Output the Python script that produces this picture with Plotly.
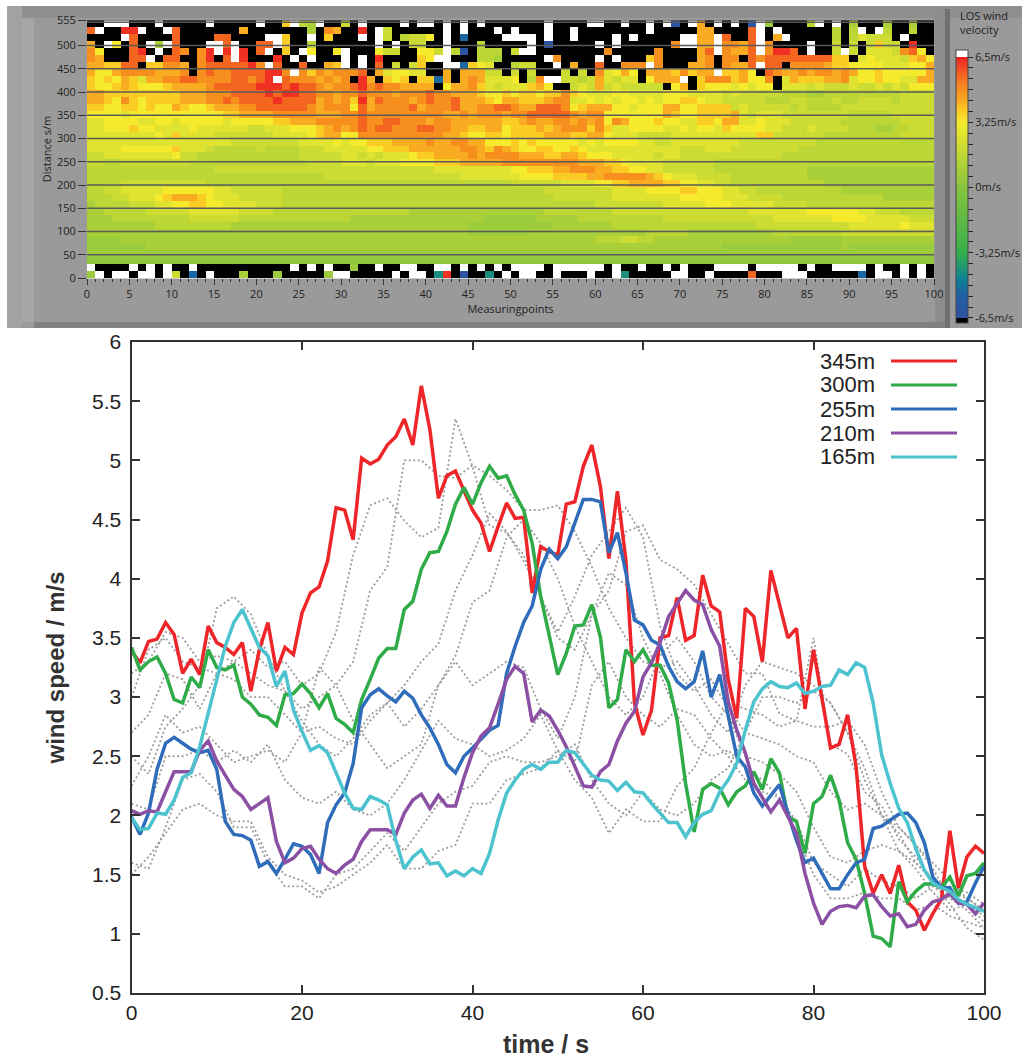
import plotly.graph_objects as go

W, H = 1022, 1057

# ---------- data: line chart ----------
red345 = [3.39,3.29,3.47,3.49,3.63,3.53,3.2,3.32,3.19,3.6,3.46,3.42,3.36,3.46,3.05,3.4,3.63,3.22,3.42,3.36,
          3.71,3.88,3.93,4.15,4.6,4.58,4.33,5.02,4.97,5.01,5.13,5.2,5.35,5.13,5.63,5.26,4.68,4.87,4.91,4.74,
          4.58,4.47,4.23,4.44,4.64,4.51,4.52,3.88,4.27,4.23,4.2,4.63,4.65,4.95,5.13,4.78,4.17,4.74,4.15,2.95,
          2.68,2.89,3.5,3.52,3.84,3.48,3.52,4.03,3.77,3.72,3.15,2.82,3.75,3.68,3.3,4.07,3.79,3.5,3.58,2.9,
          3.4,2.98,2.57,2.6,2.85,2.41,1.57,1.34,1.5,1.34,1.58,1.27,1.2,1.03,1.17,1.29,1.87,1.39,1.65,1.74,1.68]
green300 = [3.42,3.23,3.3,3.34,3.2,2.98,2.95,3.17,3.08,3.4,3.25,3.23,3.27,3.0,2.94,2.85,2.83,2.76,3.02,3.03,
            3.11,3.03,2.91,3.03,2.82,2.77,2.7,2.98,3.15,3.33,3.41,3.41,3.74,3.81,4.08,4.22,4.23,4.4,4.63,4.77,
            4.63,4.81,4.95,4.85,4.87,4.71,4.58,4.3,3.85,3.51,3.19,3.37,3.6,3.61,3.78,3.51,2.91,2.98,3.4,3.3,
            3.4,3.27,3.27,3.12,2.81,2.27,1.86,2.22,2.27,2.23,2.09,2.2,2.25,2.37,2.22,2.48,2.36,1.99,1.95,1.68,
            2.1,2.16,2.34,2.13,1.77,1.63,1.34,0.98,0.96,0.89,1.44,1.27,1.36,1.42,1.42,1.39,1.48,1.32,1.49,1.51,1.6]
blue255 = [1.99,1.84,2.02,2.39,2.61,2.66,2.61,2.56,2.53,2.55,2.39,1.95,1.84,1.83,1.79,1.57,1.61,1.51,1.63,1.76,
           1.74,1.67,1.51,1.94,2.09,2.19,2.44,2.91,3.02,3.07,3.01,2.96,3.05,2.99,2.85,2.74,2.6,2.43,2.36,2.5,
           2.57,2.65,2.72,2.76,3.2,3.43,3.63,3.77,4.08,4.25,4.17,4.27,4.48,4.67,4.67,4.65,4.22,4.39,4.05,3.65,
           3.61,3.48,3.44,3.26,3.13,3.07,3.13,3.39,3.0,3.19,2.84,2.5,2.41,2.19,2.08,2.17,2.26,2.02,1.79,1.6,
           1.64,1.51,1.38,1.38,1.5,1.6,1.63,1.89,1.91,1.96,2.01,2.02,1.94,1.77,1.48,1.39,1.39,1.26,1.27,1.43,1.57]
purple210 = [2.04,2.01,2.04,2.03,2.2,2.37,2.37,2.37,2.55,2.63,2.46,2.34,2.22,2.16,2.05,2.1,2.15,1.78,1.6,1.64,
             1.72,1.74,1.63,1.55,1.51,1.58,1.63,1.78,1.88,1.88,1.88,1.84,2.02,2.13,2.18,2.06,2.17,2.08,2.08,2.32,
             2.53,2.67,2.74,2.94,3.15,3.26,3.2,2.79,2.89,2.84,2.72,2.58,2.41,2.25,2.24,2.37,2.43,2.63,2.78,2.88,
             3.17,3.29,3.46,3.68,3.79,3.9,3.82,3.78,3.57,3.43,2.96,2.72,2.53,2.27,2.15,2.03,2.13,1.99,1.85,1.51,
             1.26,1.08,1.19,1.23,1.24,1.22,1.32,1.33,1.23,1.15,1.17,1.06,1.08,1.2,1.27,1.29,1.34,1.26,1.25,1.17,1.26]
cyan165 = [1.98,1.88,1.89,2.02,2.01,2.13,2.32,2.36,2.58,2.86,3.15,3.43,3.63,3.74,3.58,3.42,3.35,3.09,3.22,2.89,
           2.71,2.55,2.59,2.53,2.36,2.19,2.06,2.05,2.16,2.13,2.09,1.79,1.55,1.65,1.71,1.59,1.6,1.49,1.53,1.49,
           1.55,1.51,1.68,1.96,2.19,2.3,2.39,2.43,2.39,2.45,2.45,2.55,2.53,2.43,2.34,2.3,2.29,2.21,2.28,2.2,
           2.19,2.1,2.02,1.94,1.94,1.82,1.94,2.01,2.04,2.2,2.3,2.44,2.72,2.96,3.07,3.13,3.09,3.08,3.12,3.03,
           3.05,3.09,3.1,3.23,3.19,3.29,3.25,2.95,2.51,2.27,2.06,1.94,1.72,1.54,1.43,1.39,1.36,1.29,1.25,1.22,1.19]
series_names = ["345m", "300m", "255m", "210m", "165m"]
series_values = [red345, green300, blue255, purple210, cyan165]
series_colors = ["#ee2529", "#2fab48", "#2f6dbb", "#8b4fa3", "#4dc3cf"]

grey330 = [3.2,3.3,3.55,3.5,3.3,3.35,3.3,3.4,3.25,3.3,3.1,3.2,3.55,4.2,4.62,4.68,4.49,4.35,4.43,5.35,4.95,4.45,4.39,4.2,3.85,3.5,3.4,3.7,3.9,4.4,4.45,4.16,4.08,3.95,3.7,3.45,3.2,3.2,2.86,2.8,3.5,2.6,2.52,2.2,2.08,1.8,1.65,1.45,1.25,1.05,0.95]
grey315 = [3.0,3.4,3.5,3.3,3.25,3.2,3.3,3.2,3.1,3.05,2.9,3.0,3.1,3.3,3.9,4.1,5.0,5.0,4.87,4.85,4.96,4.87,4.75,4.58,4.58,4.62,4.4,4.1,3.75,3.5,3.3,3.25,3.3,3.1,2.85,2.7,3.1,3.3,3.25,3.2,3.1,2.95,2.7,2.4,2.0,1.7,1.55,1.35,1.2,1.25,1.1]
grey285 = [2.7,2.85,3.2,3.15,2.9,3.2,3.15,3.0,3.0,2.85,2.7,2.75,2.65,2.6,2.8,2.95,3.1,3.3,3.45,3.9,4.2,4.55,4.4,4.15,3.85,3.55,3.85,4.2,4.4,4.6,4.35,3.6,3.2,3.05,3.15,2.9,2.7,2.65,2.6,2.5,2.45,2.2,2.05,2.1,2.0,1.9,1.75,1.6,1.45,1.3,1.2]
grey270 = [2.5,2.35,2.75,2.9,3.1,3.75,3.85,3.7,3.35,3.05,2.8,2.6,2.5,2.65,2.85,2.95,2.75,2.9,3.1,3.35,3.8,3.9,4.35,4.5,4.3,4.0,3.6,3.3,3.0,2.85,3.0,3.35,3.5,3.3,3.0,2.85,2.5,2.45,2.35,2.2,1.9,1.65,1.6,1.7,1.75,1.7,1.6,1.45,1.4,1.35,1.25]
grey240 = [2.25,2.5,2.85,2.7,2.75,2.6,2.45,2.5,2.55,2.45,2.7,3.25,3.1,2.8,2.6,2.4,2.5,2.6,3.1,3.3,3.1,3.2,3.3,3.25,2.9,2.65,3.0,3.7,4.05,3.95,3.5,3.2,2.85,2.6,2.5,2.55,2.4,2.3,2.15,1.95,1.6,1.5,1.4,1.55,1.45,1.4,1.3,1.4,1.3,1.2,1.05]
grey225 = [2.1,2.05,2.5,2.5,2.55,2.45,2.55,2.45,2.6,2.3,2.15,2.1,2.2,2.05,2.0,2.1,2.3,2.55,2.8,2.65,2.6,2.5,2.55,2.65,2.85,2.55,2.45,3.1,3.3,3.0,2.85,2.75,2.9,2.85,2.65,2.5,2.3,2.2,2.15,1.85,1.5,1.3,1.3,1.35,1.3,1.3,1.2,1.25,1.15,1.1,1.05]
grey195 = [1.6,1.55,1.9,2.3,2.35,2.2,1.9,1.9,1.6,1.4,1.4,1.3,1.5,1.55,1.7,1.85,1.7,1.9,2.1,2.2,2.25,2.45,2.5,2.45,2.45,2.5,2.6,2.3,2.1,2.0,2.2,2.05,2.0,2.1,2.3,2.4,2.7,3.0,3.0,2.95,3.05,2.95,2.7,2.3,2.0,1.85,1.6,1.45,1.35,1.3,1.2]
grey180 = [1.5,1.65,1.85,2.05,2.1,2.0,1.95,1.95,1.65,1.5,1.45,1.35,1.4,1.5,1.6,1.75,1.55,1.55,1.7,1.75,2.1,2.1,2.3,2.35,2.4,2.55,2.3,2.15,1.85,2.05,1.95,1.95,2.25,2.4,2.7,2.95,2.9,2.85,2.75,2.8,2.75,2.75,2.8,2.6,2.2,1.9,1.75,1.55,1.3,1.25,1.15]
grey_values = [grey330, grey315, grey285, grey270, grey240, grey225, grey195, grey180]

y_tick_vals = [0.5,1,1.5,2,2.5,3,3.5,4,4.5,5,5.5,6]
y_tick_text = ["0.5","1","1.5","2","2.5","3","3.5","4","4.5","5","5.5","6"]
x_tick_vals = [0,20,40,60,80,100]

# ---------- data: heat map, one character per cell, top row first ----------
level_values = {"a":0.3,"0":0.6,"1":1.0,"2":1.5,"3":2.0,"4":2.6,"5":3.25,"6":3.8,"7":4.3,"8":4.9,"9":5.6,"R":6.3,
                "K":-6.75,"W":6.85,"B":-6.2,"T":-5.2,"G":-4.2}
heat_rows = [
 "KKWWWKKKWKKKKKWKKKKKWKK6W21WKK"+"3KWKKKKWKWWKWKWKWKKKKKKKWKKKKWWKKWKKWKWB"+"KW7KWKWKBW0KKKK2WKWK1KKK1KK1KK",
 "9WKKRRWKKW9KKKKKKK7KKKKKKK1K87"+"KKRKW3KKKKKKWKWKKKWKWKKKWKKWKKKKKKKKWKKK"+"KK77KKKK9WKWKKKKKK2K2WKW2KK2KK",
 "KKKKW9KKKK9KKKK99KKKKWW6KKWK6K"+"KKWKW3K2335KWKTKKKKWWWWKWKKWKKKKWKWKKKKK"+"WW77W9KK9WK7WKKKKK2K24333KWKKK",
 "7KW5K9KW1W9KKKWW9WKK99W6KK2KKK"+"KKKKWKWK33KKWKKK2KKKKKWKBKKKKKWKWKKKKKK8"+"WW77W8879W8KKKKWKK3K3K3633KRKK",
 "85KKK9RKWK98K8RWRWRK9WK6KW5KK5"+"WKKK533KK553W2BK222K3WWKKKKKKKK8KKKKK8KK"+"KK79W8779W8RR9KWKK3W3K4443895K",
 "87KKK99WK99KK8RK9WRKKKRKWKWKKK"+"WKWKRKKKK65WWKKK221KKKKKW8KKKKWKWKKK68KK"+"KK78K88K989999999966K454443675"[:30],
 "776699K66887K899999R8W9KK9KK76"+"WKWK9K3K36KKWWT654KK233KKWK7KK9KK888W8KK"+"K778K8779W99K888876655554445576"[:30],
 "7557888877"+"78K8988999"+"9RR8W86878"+"889K745544KK7K77733K3K3KKK3K3K84575K7776"+"8677W6675K98778788787556555557"[:30],
 "656576477889988889989RW9888787"+"8KR7K656K66T7K7874445K28WW332374344K5777"+"WK6888675 58K4766677845565544 7".replace(" ","")[:30],
 "6556765556"+"7777899999"+"RRR9R99878"+"89R89887777K5778643444675KK34373433333K5"[:40]+"7K655545455K44434333433434355"[:30],
 "7766666666"+"6777888999"+"9R9RR99887"+"8898887888988777655656656686544455444455"[:40]+"5444434333332221122222222233"[:30].ljust(30,"3"),
 "7765865666"+"6777889899"+"99R9999787"+"86R798887898897776577666788445454554545"[:40].ljust(40,"5")+"6654433333222332223223333233"[:30].ljust(30,"3"),
 "6655665655"+"7655677788"+"9999998788"+"859788889788897788998779998567775545557 7".replace(" ","")[:40]+"556666343333323222233333333 3".replace(" ","")[:30].ljust(30,"3"),
 "555545555555555566777788888777"+"8898888888887787888788999998788555555576"[:40]+"55666674344433333333222223333 3".replace(" ","")[:30],
 "44555544554555554555556677788 8".replace(" ","")[:30]+"8898899888788777777667877887878587555655"[:40]+"4466577445444333333222222233 33".replace(" ","")[:30],
 "445556554444544444433444555678"+"7898998889988776677566676788868644555544"+"5455465555443334333322211 2233".replace(" ","")[:30],
 "444444445464444333333344445677"+"5588888888887765566566667776677544433334"+"4444444446633333322222222 2333".replace(" ","")[:30],
 "444444444444444443333333344445"+"4556667777877887755565655555454555544334"[:40]+"4444444333333333222222 2222222".replace(" ","")[:30],
 "444455555564443222223222233344"+"4445566677777788768765566556544444444444"+"33344433333333222222 2222222222".replace(" ","")[:30],
 "334444444453322222222222233333"+"4434344456677778788887776677655544444344"+"33333333333322222222 222222222".replace(" ","")[:30],
 "3322333333332222222222222233 33".replace(" ","")[:30]+"4443444555566677777888888888777665444433"+"33332222222 22222222222222222".replace(" ","")[:30],
 "222222222222222333333333333333"+"3333333333344444444455666778887766554433"+"33332222222222211111 1111111111".replace(" ","")[:30],
 "222222222222222222222222222233"+"3333333333333344444445555666677888887654"+"4433332222222221111 1111111111".replace(" ","")[:30],
 "222233333333332222222222222222"+"2222222222222222222233333344445566777766"+"5544332222222222211 1111111111".replace(" ","")[:30],
 "223344444555555443333332222222"+"2222222222222222222222223333333344445555"+"6655544332222222222 1111111111".replace(" ","")[:30],
 "222334445677765444333332222222"+"2222222222222222222222222333333344444444"+"5555544433332222222 2222211111".replace(" ","")[:30],
 "122223334455665544443332222222"+"2222222222222222222222222222223333333344"+"4445554444433332222 2222222222".replace(" ","")[:30],
 "112222233333444444333322222222"+"2222222211111111111111112222222233333333"+"333333334 4444445555 5544333222".replace(" ","")[:30],
 "111222222222333333222222222222"+"2111111111111111100000011111222222222233"+"333333333 3344444445 5554444433".replace(" ","")[:30],
 "111111112222222221111111111111"+"1111111111111110000000000111111122222222"+"222222222 3333333333 3444444544".replace(" ","")[:30],
 "111111111111111111111111111111"+"1111111111111110000000111111111111112222"+"211111111 1122222222 3333333333".replace(" ","")[:30],
 "000011111111111111111111111111"+"1111111111111111111111111111112223322111"+"111111111 1111000000 1111111111".replace(" ","")[:30],
 "000000011111111111111111111111"+"1111111111111111111111111111111111111111"+"111110000 0000000000 1000000000".replace(" ","")[:30],
 "000000000000000000000000000000"+"0000000000000000000000000000000000000000"+"000000000 0000000000 0000000000".replace(" ","")[:30],
 "aaaaaaaaaaaaaaaaaaaaaaaaaaaaaa"+"aaaaaaaaaaaaaaaaaaaaaaaaaaaaaaaaaaaaaaaa"+"aaaaaaaaaaaaaaaaaaaaaaaaaaaaaa",
 "WKKKKWKWKWKKWKKKKKKKKKKKWKWKWK"+"K0KKWKKWWKKWWKWKWKWKWWWWKWWWWWWKWKKWKKWK"+"WKKKWWWWKWWWWWKWKKWWWWKWKKWKWK",
 "0WKWWKWWKW3KTKWKKK1KKK0KKKKK0W"+"WKKKKKWKWWKGRKBKKGKWKWWKKWKKKWKKWGKKKKKW"+"WKKWKKKK9KKKWWWKKKKKKTKWWKWKWK",
]
heat_rows = [(r + r[-1] * 100)[:100] for r in heat_rows]
row_centres = [555 - 15 * k - 7.5 for k in range(len(heat_rows))]
column_centres = [i + 0.5 for i in range(100)]
heat_z = [[level_values[c] for c in row] for row in heat_rows]

heat_x_ticks = list(range(0, 101, 5))
heat_y_ticks = [0, 50, 100, 150, 200, 250, 300, 350, 400, 450, 500, 555]
heat_grid = [50, 100, 150, 200, 250, 300, 350, 400, 450, 500, 550]
bar_vals = [-6.5 + 13 * i / 24 for i in range(25)]
bar_labels = {0: "-6,5m/s", 6: "-3,25m/s", 12: "0m/s", 18: "3,25m/s", 24: "6,5m/s"}

# ---------- colour scale ----------
zmin, zmax = -6.75, 6.85
def pos(v):
    return (v - zmin) / (zmax - zmin)
stops = [(-6.5, "#2f4f9f"), (-5.4, "#1f5fa5"), (-4.6, "#0d7f96"), (-3.25, "#35b04a"), (0, "#87c33f"),
         (1.5, "#bcd636"), (3.25, "#f5ea2c"), (3.9, "#fbc623"), (4.4, "#f9a521"), (5.0, "#f78a1f"),
         (5.7, "#f35f20"), (6.5, "#ed2024")]
colorscale = [[0, "#000000"], [pos(-6.5), "#000000"]]
colorscale += [[pos(v), c] for v, c in stops]
colorscale += [[pos(6.5), "#ffffff"], [1, "#ffffff"]]

fig = go.Figure()
fig.add_trace(go.Heatmap(
    z=heat_z, x=column_centres, y=row_centres, xaxis="x", yaxis="y",
    colorscale=colorscale, zmin=zmin, zmax=zmax, hoverinfo="skip",
    colorbar=dict(x=956 / W, xanchor="left", xpad=0, y=1 - 50 / H, yanchor="top", ypad=0,
                  lenmode="pixels", len=273, thicknessmode="pixels", thickness=12,
                  tickmode="array", tickvals=bar_vals,
                  ticktext=[bar_labels.get(i, "") for i in range(25)],
                  ticks="outside", ticklen=5, tickcolor="#222", tickfont=dict(family="Open Sans", size=11, color="#222"),
                  outlinecolor="#444", outlinewidth=1, borderwidth=0),
))

grey_t = list(range(0, 101, 2))
for g in grey_values:
    fig.add_trace(go.Scatter(x=grey_t, y=g, xaxis="x2", yaxis="y2", mode="lines", showlegend=False,
                             line=dict(color="#9c9c9c", width=1.8, dash="2px,2.5px"), hoverinfo="skip"))
t = list(range(101))
for name, vals, col in zip(series_names, series_values, series_colors):
    fig.add_trace(go.Scatter(x=t, y=vals, xaxis="x2", yaxis="y2", mode="lines", name=name, showlegend=False,
                             line=dict(color=col, width=3.5)))

shapes = []
def rect(x0, y0, x1, y1, color):
    shapes.append(dict(type="rect", xref="paper", yref="paper", x0=x0 / W, x1=x1 / W,
                       y0=1 - y1 / H, y1=1 - y0 / H, fillcolor=color, line_width=0, layer="below"))
rect(7, 6, 1022, 328, "#9a9a9a")
rect(7, 6, 1022, 18, "#8f8f8f")
rect(7, 6, 22, 328, "#a2a2a2")
rect(22, 18, 34, 322, "#a6a6a6")
rect(34, 322, 950, 328, "#808080")
rect(935, 9, 945, 322, "#8c8c8c")
rect(945, 9, 950, 328, "#707070")

for v in heat_grid:
    shapes.append(dict(type="line", xref="x", yref="y", x0=0, x1=100, y0=v, y1=v,
                       line=dict(color="#5a5a5a", width=1.5), layer="above"))
shapes.append(dict(type="line", xref="x", yref="y", x0=0, x1=100, y0=555, y1=555,
                   line=dict(color="#555", width=1.5), layer="above"))

annotations = [
    dict(text="LOS wind<br>velocity", xref="paper", yref="paper", x=958 / W, y=1 - 6 / H, xanchor="left", yanchor="top",
         showarrow=False, align="left", font=dict(family="Open Sans", size=11, color="#222")),
    dict(text="<b>time / s</b>", xref="paper", yref="paper", x=546 / W, y=1 - 1044 / H, xanchor="center", yanchor="middle",
         showarrow=False, font=dict(family="Liberation Sans", size=25, color="#333")),
]
legend_y = [361, 385, 409, 433, 457]
for name, col, ly in zip(series_names, series_colors, legend_y):
    annotations.append(dict(text=name, xref="paper", yref="paper", x=877 / W, y=1 - ly / H, xanchor="right", yanchor="middle",
                            showarrow=False, font=dict(family="Liberation Sans", size=22, color="#222")))
    shapes.append(dict(type="line", xref="paper", yref="paper", x0=891 / W, x1=957 / W, y0=1 - ly / H, y1=1 - ly / H,
                       line=dict(color=col, width=3), layer="above"))

fig.update_layout(
    width=W, height=H, margin=dict(l=0, r=0, t=0, b=0, autoexpand=False), paper_bgcolor="white", plot_bgcolor="rgba(0,0,0,0)",
    showlegend=False, shapes=shapes, annotations=annotations,
    xaxis=dict(domain=[87 / W, 934 / W], anchor="y", range=[0, 100], tickmode="array", tickvals=heat_x_ticks,
               ticks="outside", ticklen=6, tickcolor="#333", tickfont=dict(family="Open Sans", size=11, color="#222"),
               minor=dict(ticks="outside", ticklen=3, dtick=1, tick0=0, tickcolor="#333"),
               showgrid=False, zeroline=False, showline=True, linecolor="#cfcfcf",
               title=dict(text="Measuringpoints", standoff=4, font=dict(family="Open Sans", size=11, color="#222"))),
    yaxis=dict(domain=[1 - 278 / H, 1 - 20 / H], anchor="x", range=[0, 555], tickmode="array", tickvals=heat_y_ticks,
               ticks="outside", ticklen=8, tickcolor="#333", tickfont=dict(family="Open Sans", size=11, color="#222"),
               showgrid=False, zeroline=False,
               title=dict(text="Distance s/m", standoff=3, font=dict(family="Open Sans", size=11, color="#222"))),
    xaxis2=dict(domain=[131.5 / W, 984 / W], anchor="y2", range=[0, 100], tickmode="array", tickvals=x_tick_vals,
                ticks="inside", ticklen=8, tickwidth=2, tickcolor="#333", mirror="allticks", showline=True, linewidth=2,
                linecolor="#333", showgrid=False, zeroline=False,
                tickfont=dict(family="Liberation Sans", size=21, color="#222")),
    yaxis2=dict(domain=[1 - 993 / H, 1 - 342 / H], anchor="x2", range=[0.5, 6], tickmode="array", tickvals=y_tick_vals,
                ticktext=y_tick_text, ticks="inside", ticklen=8, tickwidth=2, tickcolor="#333", mirror="allticks",
                showline=True, linewidth=2, linecolor="#333", showgrid=False, zeroline=False,
                ticklabelstandoff=4,
                tickfont=dict(family="Liberation Sans", size=21, color="#222"),
                title=dict(text="<b>wind speed / m/s</b>", standoff=21, font=dict(family="Liberation Sans", size=24, color="#333"))),
)

fig.write_html("out.html", config=dict(displayModeBar=False),
               post_script="document.body.style.margin='0';document.documentElement.style.overflow='hidden';")
